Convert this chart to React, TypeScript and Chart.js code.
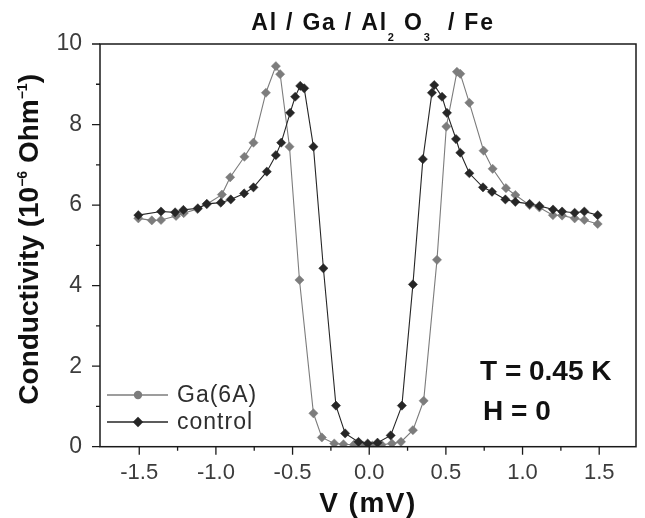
import { useEffect, useRef } from 'react';
import { Chart, registerables } from 'chart.js';

Chart.register(...registerables);

// ---- data (V in mV, conductivity in 1e-6 Ohm^-1) ----
const SERIES_NAMES = ['Ga(6A)', 'control'];

const GA_V = [
  -1.506, -1.418, -1.358, -1.26, -1.21, -1.12, -1.06, -0.961, -0.907, -0.814, -0.755,
  -0.674, -0.609, -0.581, -0.52, -0.455, -0.364, -0.309, -0.228, -0.168, -0.1, -0.04,
  0.02, 0.08, 0.148, 0.207, 0.285, 0.355, 0.442, 0.503, 0.572, 0.594, 0.653, 0.746,
  0.805, 0.892, 0.953, 1.046, 1.11, 1.198, 1.258, 1.34, 1.403, 1.49,
];
const GA_G = [
  5.67, 5.62, 5.63, 5.73, 5.8, 5.9, 6.02, 6.26, 6.69, 7.2, 7.55,
  8.79, 9.45, 9.25, 7.45, 4.14, 0.83, 0.23, 0.08, 0.06, 0.05, 0.03,
  0.03, 0.05, 0.08, 0.12, 0.41, 1.14, 4.64, 7.95, 9.31, 9.26, 8.54, 7.35,
  6.9, 6.42, 6.25, 6.0, 5.94, 5.75, 5.74, 5.67, 5.63, 5.53,
];

const CTRL_V = [
  -1.506, -1.358, -1.266, -1.212, -1.118, -1.059, -0.968, -0.903, -0.816, -0.755,
  -0.668, -0.609, -0.574, -0.516, -0.483, -0.45, -0.424, -0.364, -0.299, -0.217,
  -0.157, -0.07, -0.01, 0.054, 0.14, 0.213, 0.285, 0.35, 0.409, 0.424, 0.475, 0.507,
  0.566, 0.594, 0.653, 0.742, 0.801, 0.888, 0.953, 1.046, 1.11, 1.199, 1.258, 1.34,
  1.403, 1.49,
];
const CTRL_G = [
  5.75, 5.84, 5.82, 5.88, 5.92, 6.03, 6.06, 6.14, 6.29, 6.44,
  6.83, 7.24, 7.55, 8.29, 8.69, 8.96, 8.9, 7.45, 4.43, 1.02,
  0.33, 0.12, 0.08, 0.1, 0.28, 1.02, 4.03, 7.14, 8.79, 8.98, 8.69, 8.29,
  7.64, 7.3, 6.79, 6.44, 6.33, 6.14, 6.08, 6.03, 5.98, 5.89, 5.84, 5.81,
  5.84, 5.75,
];

const X_TICKS = [-1.5, -1.0, -0.5, 0.0, 0.5, 1.0, 1.5];
const X_MINOR = [-1.25, -0.75, -0.25, 0.25, 0.75, 1.25];
const Y_TICKS = [0, 2, 4, 6, 8, 10];
const Y_MINOR = [1, 3, 5, 7, 9];
const X_RANGE = [-1.756, 1.74];
const Y_RANGE = [0, 10];

const ANNOTATIONS = ['T = 0.45 K', 'H = 0'];

// ---- styles ----
const GA_COLOR = '#7c7c7c';
const CTRL_COLOR = '#262626';
const AXIS_COLOR = '#1a1a1a';
const TICK_TEXT = '#3c3c3c';
const SANS = '"Liberation Sans", Arial, Helvetica, sans-serif';
const NARROW = '"Liberation Sans Narrow", "Arial Narrow", "Liberation Sans", Arial, sans-serif';

type Part = { t: string; sup?: boolean; sub?: boolean };

function drawRich(
  ctx: CanvasRenderingContext2D,
  parts: Part[],
  x: number,
  y: number,
  size: number,
  small: number,
  shift: number,
  weight: string,
  spacing: number,
) {
  const anyCtx = ctx as any;
  anyCtx.letterSpacing = spacing + 'px';
  const widths = parts.map((p) => {
    ctx.font = `${weight} ${p.sup || p.sub ? small : size}px ${SANS}`;
    return ctx.measureText(p.t).width;
  });
  const total = widths.reduce((s, w) => s + w, 0);
  let cx = x - total / 2;
  ctx.textAlign = 'left';
  ctx.textBaseline = 'alphabetic';
  parts.forEach((p, i) => {
    ctx.font = `${weight} ${p.sup || p.sub ? small : size}px ${SANS}`;
    const dy = p.sup ? -shift : p.sub ? shift : 0;
    ctx.fillText(p.t, cx, y + dy);
    cx += widths[i];
  });
  anyCtx.letterSpacing = '0px';
}

const decoPlugin = {
  id: 'deco',
  afterDraw(chart: any) {
    const { ctx, chartArea: a, scales } = chart;
    const xs = scales.x;
    const ys = scales.y;
    ctx.save();

    // frame
    ctx.strokeStyle = AXIS_COLOR;
    ctx.lineWidth = 1.5;
    ctx.strokeRect(a.left, a.top, a.right - a.left, a.bottom - a.top);

    // ticks (outside)
    ctx.lineWidth = 1.3;
    ctx.beginPath();
    X_TICKS.forEach((v) => {
      const px = xs.getPixelForValue(v);
      ctx.moveTo(px, a.bottom);
      ctx.lineTo(px, a.bottom + 8);
    });
    X_MINOR.forEach((v) => {
      const px = xs.getPixelForValue(v);
      ctx.moveTo(px, a.bottom);
      ctx.lineTo(px, a.bottom + 4);
    });
    Y_TICKS.forEach((v) => {
      const py = ys.getPixelForValue(v);
      ctx.moveTo(a.left, py);
      ctx.lineTo(a.left - 8, py);
    });
    Y_MINOR.forEach((v) => {
      const py = ys.getPixelForValue(v);
      ctx.moveTo(a.left, py);
      ctx.lineTo(a.left - 4, py);
    });
    ctx.stroke();

    ctx.fillStyle = '#111';
    // title
    drawRich(
      ctx,
      [{ t: 'Al / Ga / Al' }, { t: '2', sub: true }, { t: ' O' }, { t: '3', sub: true }, { t: '  / Fe' }],
      373,
      30,
      23,
      11,
      11,
      'bold',
      1.8,
    );

    // x title
    drawRich(ctx, [{ t: 'V (mV)' }], (a.left + a.right) / 2, 512, 28, 28, 0, 'bold', 1.5);

    // y title
    ctx.save();
    ctx.translate(38, (a.top + a.bottom) / 2 - 6);
    ctx.rotate(-Math.PI / 2);
    drawRich(
      ctx,
      [{ t: 'Conductivity (10' }, { t: '\u22126', sup: true }, { t: ' Ohm' }, { t: '\u22121', sup: true }, { t: ')' }],
      0,
      0,
      28,
      14,
      11,
      'bold',
      0,
    );
    ctx.restore();

    // annotations
    ctx.font = `bold 28px ${SANS}`;
    ctx.textAlign = 'left';
    ctx.textBaseline = 'alphabetic';
    ctx.fillText(ANNOTATIONS[0], 480, 380);
    ctx.fillText(ANNOTATIONS[1], 483, 420);

    // legend
    const legendRows = [
      { name: SERIES_NAMES[0], color: GA_COLOR, style: 'circle', y: 395 },
      { name: SERIES_NAMES[1], color: CTRL_COLOR, style: 'rectRot', y: 422 },
    ];
    legendRows.forEach((r) => {
      ctx.strokeStyle = r.color;
      ctx.lineWidth = 1.3;
      ctx.beginPath();
      ctx.moveTo(107, r.y);
      ctx.lineTo(168, r.y);
      ctx.stroke();
      ctx.fillStyle = r.color;
      ctx.beginPath();
      if (r.style === 'circle') {
        ctx.arc(138, r.y, 4.2, 0, Math.PI * 2);
      } else {
        ctx.moveTo(138, r.y - 5.2);
        ctx.lineTo(143.2, r.y);
        ctx.lineTo(138, r.y + 5.2);
        ctx.lineTo(132.8, r.y);
        ctx.closePath();
      }
      ctx.fill();
      (ctx as any).letterSpacing = '1px';
      ctx.fillStyle = '#2e2e2e';
      ctx.font = `23px ${SANS}`;
      ctx.textBaseline = 'middle';
      ctx.fillText(r.name, 177, r.y + 1);
      (ctx as any).letterSpacing = '0px';
    });

    ctx.restore();
  },
};

export default function App() {
  const ref = useRef<HTMLCanvasElement | null>(null);

  useEffect(() => {
    if (!ref.current) return;
    const chart = new Chart(ref.current, {
      type: 'scatter',
      data: {
        datasets: [
          {
            label: SERIES_NAMES[1],
            data: CTRL_V.map((v, i) => ({ x: v, y: CTRL_G[i] })),
            showLine: true,
            borderColor: CTRL_COLOR,
            backgroundColor: CTRL_COLOR,
            pointBorderColor: CTRL_COLOR,
            pointBackgroundColor: CTRL_COLOR,
            borderWidth: 1.1,
            pointStyle: 'rectRot',
            pointRadius: 4.6,
            pointBorderWidth: 0.5,
            tension: 0,
          },
          {
            label: SERIES_NAMES[0],
            data: GA_V.map((v, i) => ({ x: v, y: GA_G[i] })),
            showLine: true,
            borderColor: GA_COLOR,
            backgroundColor: GA_COLOR,
            pointBorderColor: GA_COLOR,
            pointBackgroundColor: GA_COLOR,
            borderWidth: 1.1,
            pointStyle: 'rectRot',
            pointRadius: 4.6,
            pointBorderWidth: 0.5,
            tension: 0,
          },
        ],
      },
      options: {
        animation: false,
        responsive: true,
        maintainAspectRatio: false,
        layout: { padding: { top: 44, right: 9, left: 0, bottom: 0 } },
        plugins: {
          legend: { display: false },
          tooltip: { enabled: false },
          title: { display: false },
        },
        scales: {
          x: {
            type: 'linear',
            min: X_RANGE[0],
            max: X_RANGE[1],
            grid: { display: false, drawTicks: false },
            border: { display: false },
            afterBuildTicks: (s: any) => {
              s.ticks = X_TICKS.map((v) => ({ value: v }));
            },
            afterFit: (s: any) => {
              s.height = 71.3;
            },
            ticks: {
              padding: 13,
              color: TICK_TEXT,
              font: { family: NARROW, size: 22 },
              maxRotation: 0,
              autoSkip: false,
              callback: (v: any) => Number(v).toFixed(1),
            },
          },
          y: {
            type: 'linear',
            min: Y_RANGE[0],
            max: Y_RANGE[1],
            grid: { display: false, drawTicks: false },
            border: { display: false },
            afterBuildTicks: (s: any) => {
              s.ticks = Y_TICKS.map((v) => ({ value: v }));
            },
            afterFit: (s: any) => {
              s.width = 100;
            },
            ticks: {
              padding: 18,
              color: TICK_TEXT,
              font: { family: NARROW, size: 23 },
              autoSkip: false,
              callback: (v: any) => String(v),
            },
          },
        },
      },
      plugins: [decoPlugin],
    });
    return () => chart.destroy();
  }, []);

  return (
    <div style={{ position: 'absolute', left: 0, top: 0, width: 645, height: 518, background: '#fff' }}>
      <canvas ref={ref} />
    </div>
  );
}
